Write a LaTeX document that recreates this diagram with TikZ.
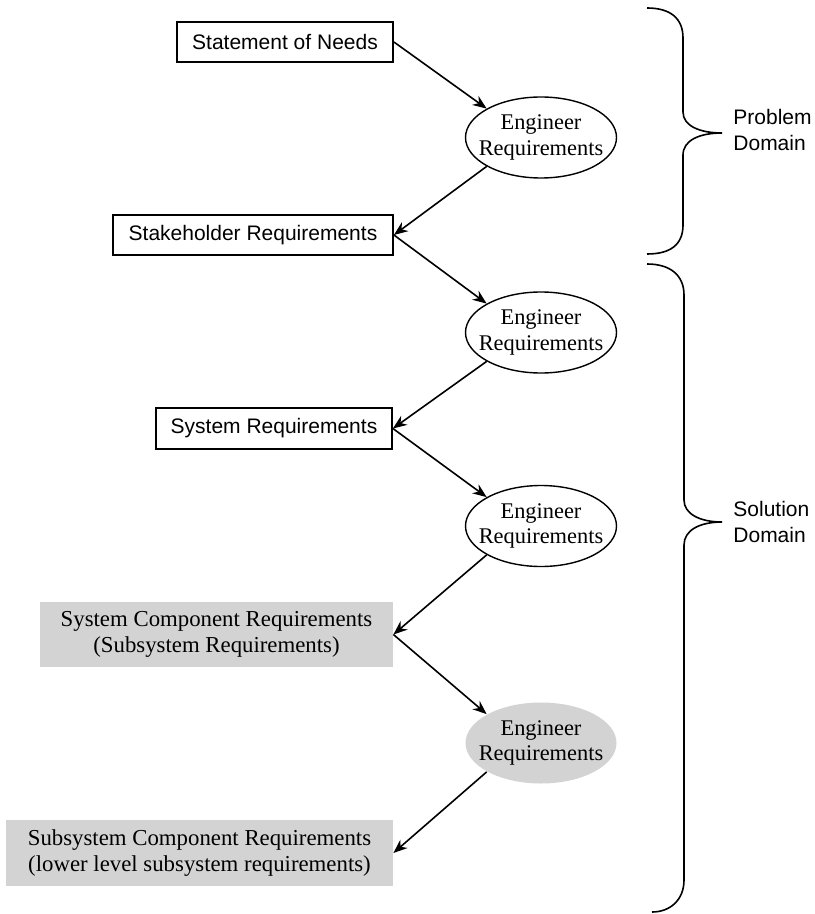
\documentclass[tikz,border=0pt]{standalone}
\usepackage{fontspec}
\setmainfont{Liberation Serif}
\setsansfont{Liberation Sans}
\usetikzlibrary{shapes.geometric,arrows.meta}
\definecolor{boxgray}{RGB}{211,211,211}
\tikzset{
	reqbox/.style={draw, line width=0.9pt, inner sep=0pt, font=\sffamily\fontsize{10.5}{12}\selectfont},
	graybox/.style={fill=boxgray, inner sep=0pt, align=center, font=\fontsize{11.4}{12.9}\selectfont},
	engineer/.style={ellipse, draw, line width=0.7pt, inner xsep=-5pt, inner ysep=0pt, minimum width=75.5pt, minimum height=40.5pt, align=center, font=\fontsize{11.2}{12.9}\selectfont},
	flow/.style={-{Stealth[length=7pt,width=5.5pt]}, line width=0.8pt},
	domainlabel/.style={anchor=west, inner sep=0pt, align=left, font=\sffamily\fontsize{10.5}{13.2}\selectfont},
	brace/.style={line width=0.8pt}
}

\begin{document}
\begin{tikzpicture}[x=0.5pt, y=-0.5pt]
	\useasboundingbox (0,0) rectangle (814,914);
	\node[reqbox, minimum width=108pt, minimum height=20pt] (needs) at (285,42) {Statement of Needs};
	\node[engineer] (eng1) at (541,137.5) {Engineer\\Requirements};
	\node[reqbox, minimum width=140pt, minimum height=20pt] (stake) at (253,235) {Stakeholder Requirements};
	\node[engineer] (eng2) at (541,332.5) {Engineer\\Requirements};
	\node[reqbox, minimum width=118pt, minimum height=20.5pt] (sysreq) at (274,428.5) {System Requirements};
	\node[engineer] (eng3) at (541,526) {Engineer\\Requirements};
	\node[graybox, minimum width=176.5pt, minimum height=32.5pt] (comp) at (216.5,634.5) {System Component Requirements\\(Subsystem Requirements)};
	\node[engineer, draw=none, fill=boxgray] (eng4) at (541,743) {Engineer\\Requirements};
	\node[graybox, minimum width=193.5pt, minimum height=33pt] (subcomp) at (199.5,853) {Subsystem Component Requirements\\(lower level subsystem requirements)};

	\draw[flow] (needs.east) -- (eng1.152);
	\draw[flow] (eng1.208) -- (stake.east);
	\draw[flow] (stake.east) -- (eng2.152);
	\draw[flow] (eng2.208) -- (sysreq.east);
	\draw[flow] (sysreq.east) -- (eng3.152);
	\draw[flow] (eng3.208) -- (comp.east);
	\draw[flow] (comp.east) -- (eng4.152);
	\draw[flow] (eng4.208) -- (subcomp.east);

	\coordinate (tip1) at (722,133);
	\coordinate (tip2) at (722,522);
	\draw[brace] (647,8) .. controls (670,8) and (683,18) .. (683,38) -- (683,112)
		.. controls (683,126) and (700,133) .. (tip1)
		.. controls (700,133) and (683,140) .. (683,155) -- (683,225)
		.. controls (683,245) and (670,254) .. (647,254);
	\draw[brace] (647,264) .. controls (670,264) and (684,275) .. (684,295) -- (684,500)
		.. controls (684,514) and (700,522) .. (tip2)
		.. controls (700,522) and (684,530) .. (684,545) -- (684,880)
		.. controls (684,900) and (670,912) .. (652,912);
	\node[domainlabel] (problem) at (733,130) {Problem\\Domain};
	\node[domainlabel] (solution) at (733,522) {Solution\\Domain};
\end{tikzpicture}
\end{document}
